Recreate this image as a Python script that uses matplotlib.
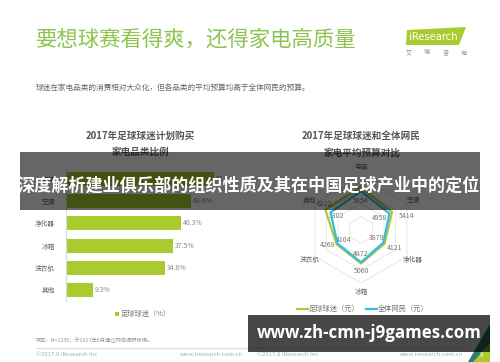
import matplotlib
matplotlib.use('Agg')
import matplotlib.pyplot as plt
import numpy as np
from matplotlib.patches import Rectangle, Polygon

plt.rcParams['font.family'] = ['Noto Sans CJK SC', 'DejaVu Sans']

# ---------------- data ----------------
bar_categories = ['电视', '空调', '净化器', '冰箱', '洗衣机', '其他']
bar_values = [51.8, 43.8, 40.3, 37.5, 34.8, 9.3]

radar_categories = ['电视', '空调', '净化器', '冰箱', '洗衣机', '其他']
fans_budget = [6500, 5414, 4121, 5060, 4268, 6222]
all_budget = [5854, 4958, 3878, 4872, 4104, 5302]

title_text = '要想球赛看得爽，还得家电高质量'
subtitle_text = '球迷在家电品类的消费相对大众化，但各品类的平均预算均高于全体网民的预算。'
left_title = ['2017年足球球迷计划购买', '家电品类比例']
right_title = ['2017年足球球迷和全体网民', '家电平均预算对比']
bar_legend = '足球球迷（%）'
radar_legend = ['足球球迷（元）', '全体网民（元）']
note_text = '样本：N=1250；于2017年6月通过网络调研获得。'
banner_top = '深度解析建业俱乐部的组织性质及其在中国足球产业中的定位'
banner_bottom = 'www.zh-cmn-j9games.com'

# ---------------- style ----------------
W, H = 500, 362
GREEN_BAR = '#a9cb2e'
GREEN_LINE = '#b0c93a'
CYAN_LINE = '#33bde0'
TITLE_GREEN = '#8dc451'
GRAY_T = '#555555'
GRAY_L = '#8a8a8a'

fig = plt.figure(figsize=(5.0, 3.62), dpi=100)
fig.patch.set_facecolor('white')


def px_rect(x0, y0, w, h):
    return [x0 / W, 1 - (y0 + h) / H, w / W, h / H]


bg = fig.add_axes([0, 0, 1, 1])
bg.set_xlim(0, W)
bg.set_ylim(H, 0)
bg.axis('off')

# header
bg.text(36, 40, title_text, fontsize=15.4, color=TITLE_GREEN, ha='left', va='center')
bg.text(36, 88, subtitle_text, fontsize=5.5, color='#666666', ha='left', va='center')

# logo
bg.add_patch(Polygon([(407, 30), (466, 27), (459, 45), (406, 45)], closed=True,
                     facecolor='#a8cb2f', edgecolor='none'))
bg.text(408.5, 37.5, 'iResearch', fontsize=7.2, color='white', ha='left', va='center',
        family=['DejaVu Sans'])
for cx, ch in zip([409, 427, 446, 464], '艾瑞咨询'):
    bg.text(cx, 53, ch, fontsize=4.3, color='#8a8a8a', ha='center', va='center')

# chart titles
bg.text(140, 136, left_title[0], fontsize=6.9, color=GRAY_T, ha='center', va='center', weight='bold')
bg.text(140, 152, left_title[1], fontsize=6.9, color=GRAY_T, ha='center', va='center', weight='bold')
bg.text(361, 136, right_title[0], fontsize=6.9, color=GRAY_T, ha='center', va='center', weight='bold')
bg.text(362, 153, right_title[1], fontsize=6.9, color=GRAY_T, ha='center', va='center', weight='bold')

# ---------------- bar chart ----------------
axb = fig.add_axes(px_rect(66, 168, 171, 133))
ypos = np.arange(len(bar_categories))
axb.barh(ypos, bar_values, height=0.63, color=GREEN_BAR)
axb.set_xlim(0, 60)
axb.set_ylim(len(bar_categories) - 0.5, -0.5)
axb.set_yticks(ypos)
axb.set_yticklabels(bar_categories, fontsize=4.8, color='#666666')
axb.tick_params(axis='y', length=0, pad=8)
axb.set_xticks([])
for s in ['top', 'right', 'bottom']:
    axb.spines[s].set_visible(False)
axb.spines['left'].set_color('#d9d9d9')
axb.spines['left'].set_linewidth(0.8)
axb.patch.set_alpha(0)
for y, v in zip(ypos, bar_values):
    axb.annotate(f'{v}%', (v, y), xytext=(2, 0), textcoords='offset pixels',
                 fontsize=5, color=GRAY_L, ha='left', va='center')

# bar legend
bg.add_patch(Rectangle((115, 312), 4, 4, facecolor=GREEN_BAR, edgecolor='none'))
bg.text(120.5, 314, bar_legend, fontsize=5.2, color='#777777', ha='left', va='center')

# ---------------- radar chart ----------------
axr = fig.add_axes(px_rect(308, 177, 106, 106))
axr.set_xlim(-8000, 8000)
axr.set_ylim(-8000, 8000)
axr.set_aspect('equal')
axr.axis('off')
n = len(radar_categories)
ang = np.arange(n) * 2 * np.pi / n  # clockwise from top
ang_c = np.append(ang, ang[0])
for lev in [2000, 4000, 6000, 8000]:
    axr.plot(lev * np.sin(ang_c), lev * np.cos(ang_c), color='#e3e3e3', lw=0.6, zorder=1)
fans = np.append(fans_budget, fans_budget[0])
alls = np.append(all_budget, all_budget[0])
axr.plot(fans * np.sin(ang_c), fans * np.cos(ang_c), color=GREEN_LINE, lw=1.6, zorder=3)
axr.plot(alls * np.sin(ang_c), alls * np.cos(ang_c), color=CYAN_LINE, lw=1.6, zorder=4)
label_r = [9500, 9000, 9000, 9300, 9000, 9000]
for a, c, r in zip(ang, radar_categories, label_r):
    axr.text(r * np.sin(a), r * np.cos(a), c, fontsize=4.8, color='#666666',
             ha='center', va='center', clip_on=False)
fan_off = [(0, 9), (14, -4), (10, -4), (0, -7), (-9, -1), (-1, 5)]
all_off = [(0, -10), (-10, -4), (-7, 5), (0, 8), (6, 4), (6, -4)]
for a, v, o in zip(ang, fans_budget, fan_off):
    if v == fans_budget[0]:
        continue  # value hidden behind the banner in the reference
    axr.annotate(str(v), (v * np.sin(a), v * np.cos(a)), xytext=o, textcoords='offset pixels',
                 fontsize=5, color='#777777', ha='center', va='center', annotation_clip=False)
for a, v, o in zip(ang, all_budget, all_off):
    axr.annotate(str(v), (v * np.sin(a), v * np.cos(a)), xytext=o, textcoords='offset pixels',
                 fontsize=5, color='#777777', ha='center', va='center', annotation_clip=False)

# radar legend
bg.plot([297, 308], [309, 309], color=GREEN_LINE, lw=1.6)
bg.text(309, 309, radar_legend[0], fontsize=5.2, color='#777777', ha='left', va='center')
bg.plot([366, 377], [309, 309], color=CYAN_LINE, lw=1.6)
bg.text(378, 309, radar_legend[1], fontsize=5.2, color='#777777', ha='left', va='center')

# ---------------- footer ----------------
bg.text(36, 340, note_text, fontsize=3.8, color='#999999', ha='left', va='center')
bg.plot([36, 463], [347.5, 347.5], color='#dddddd', lw=0.8)
bg.text(36, 354, '©2017.8 iResearch Inc', fontsize=4.3, color='#aaaaaa', ha='left', va='center')
bg.text(243, 354, 'www.iresearch.com.cn', fontsize=4.3, color='#aaaaaa', ha='right', va='center')
bg.text(257, 354, '©2017.8 iResearch Inc', fontsize=4.3, color='#aaaaaa', ha='left', va='center')
bg.text(463, 354, 'www.iresearch.com.cn', fontsize=4.3, color='#aaaaaa', ha='right', va='center')

# corner triangles
bg.add_patch(Polygon([(468, 362), (490, 324), (490, 362)], closed=True, facecolor='#2f7d74',
                     edgecolor='none', zorder=2))
bg.add_patch(Polygon([(473, 362), (490, 343), (490, 362)], closed=True, facecolor='#a8cb2f',
                     edgecolor='none', zorder=3))
bg.text(481, 355, '8', fontsize=4.5, color='white', ha='center', va='center', zorder=4)

# ---------------- overlay banners ----------------
ov = fig.add_axes([0, 0, 1, 1])
ov.set_xlim(0, W)
ov.set_ylim(H, 0)
ov.axis('off')
ov.patch.set_alpha(0)
ov.add_patch(Rectangle((20, 152), 460, 58, facecolor='black', alpha=0.6, edgecolor='none'))
ov.text(249, 186, banner_top, fontsize=12.3, color='white', weight='bold', ha='center', va='center')
ov.add_patch(Rectangle((248, 315), 242, 37, facecolor='black', alpha=0.72, edgecolor='none'))
ov.text(369, 333, banner_bottom, fontsize=12.2, color='white', weight='bold', ha='center',
        va='center', family=['Open Sans', 'DejaVu Sans'])

fig.savefig('out.png', dpi=100, facecolor='white')
